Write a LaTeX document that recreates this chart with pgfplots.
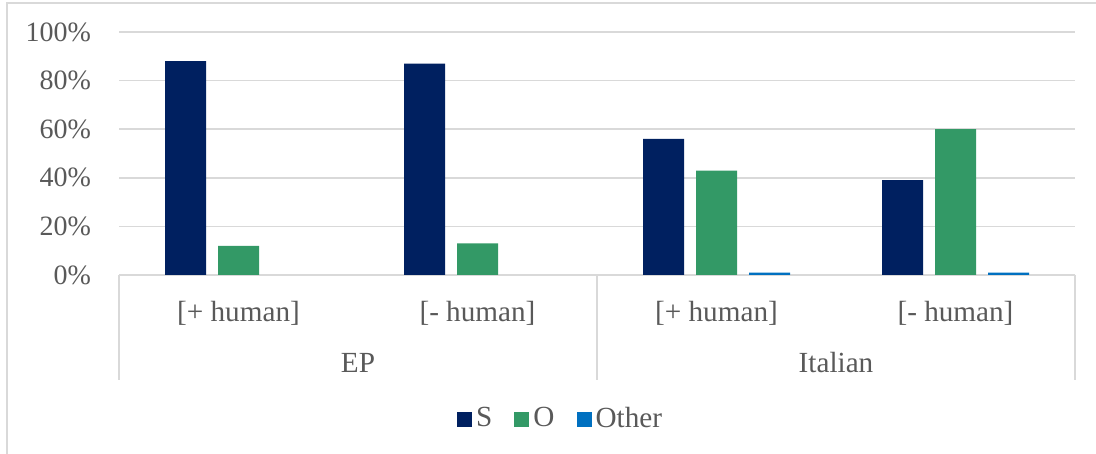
\documentclass[border=0pt]{standalone}
\usepackage{fontspec}
\setmainfont{Liberation Serif}
\usepackage{pgfplots}
\pgfplotsset{compat=1.18}
\definecolor{sS}{HTML}{002060}
\definecolor{sO}{HTML}{339966}
\definecolor{sOther}{HTML}{0070C0}
\definecolor{gridc}{HTML}{D9D9D9}
\definecolor{txt}{HTML}{595959}
\begin{document}
\fontsize{14.6}{17}\selectfont
\begin{tikzpicture}[x=1pt,y=1pt]
\path[use as bounding box] (0,0) rectangle (548,227);
\draw[gridc, line width=0.75pt] (3.5,0) -- (3.5,225.5) -- (548,225.5);
\begin{axis}[
  at={(59.5pt,89.5pt)}, anchor=south west,
  scale only axis, width=478pt, height=121.5pt,
  xmin=-0.5, xmax=3.5, ymin=0, ymax=100,
  ybar=6pt, bar width=20.5pt,
  axis line style={draw=none},
  ymajorgrids, grid style={gridc, line width=0.75pt},
  major tick length=0pt,
  ytick={0,20,40,60,80,100},
  /pgf/number format/assume math mode=true,
  yticklabel={\pgfmathprintnumber{\tick}\%},
  yticklabel style={font=\fontsize{14}{16}\selectfont, text=txt, xshift=-9pt},
  xtick={0,1,2,3},
  xticklabels={{[+ human]},{[- human]},{[+ human]},{[- human]}},
  xticklabel style={font=\fontsize{14.6}{17}\selectfont, text=txt, yshift=-8pt},
  clip=false,
  legend style={at={(0.463,-0.594)}, anchor=center, draw=none, fill=none,
    legend columns=-1, font=\fontsize{14.6}{17}\selectfont, text=txt,
    /tikz/every even column/.append style={column sep=9pt}},
  legend image code/.code={\fill[#1] (0pt,-3.75pt) rectangle (7.5pt,3.75pt);},
]
\addplot[fill=sS, draw=none] coordinates {(0,88) (1,87) (2,56) (3,39)};
\addplot[fill=sO, draw=none] coordinates {(0,12) (1,13) (2,43) (3,60)};
\addplot[fill=sOther, draw=none] coordinates {(2,1) (3,1)};
\legend{S,O,Other}
\draw[gridc, line width=0.75pt] (axis cs:-0.5,0) -- ++(0pt,-52.5pt);
\draw[gridc, line width=0.75pt] (axis cs:1.5,0) -- ++(0pt,-52.5pt);
\draw[gridc, line width=0.75pt] (axis cs:3.5,0) -- ++(0pt,-52.5pt);
\node[text=txt] at (axis cs:0.5,0) [yshift=-44pt] {EP};
\node[text=txt] at (axis cs:2.5,0) [yshift=-44pt] {Italian};
\end{axis}
\end{tikzpicture}
\end{document}
